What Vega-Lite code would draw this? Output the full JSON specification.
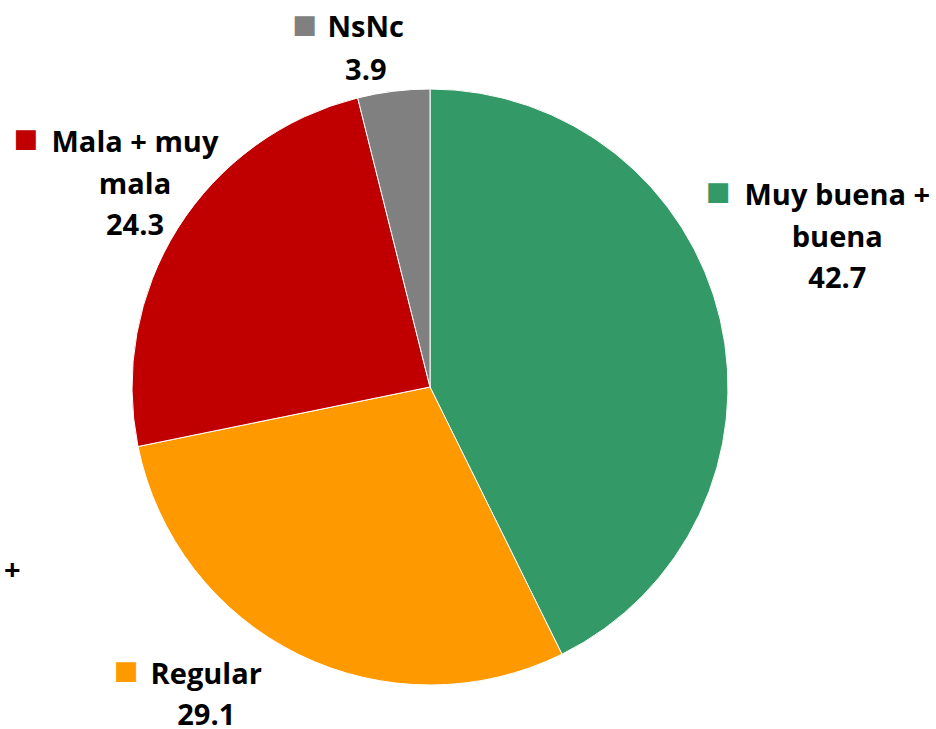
{
  "$schema": "https://vega.github.io/schema/vega-lite/v6.json",
  "width": 860,
  "height": 684,
  "autosize": "none",
  "padding": {"left": 0, "top": 45, "right": 76, "bottom": 0},
  "background": "white",
  "view": {"stroke": null},
  "data": {
    "values": [
      {"cat": "Muy buena + buena", "ord": 1, "value": 42.7, "name": "Muy buena +\nbuena"},
      {"cat": "Regular", "ord": 2, "value": 29.1, "name": "Regular"},
      {"cat": "Mala + muy mala", "ord": 3, "value": 24.3, "name": "Mala + muy\nmala"},
      {"cat": "NsNc", "ord": 4, "value": 3.9, "name": "NsNc"}
    ]
  },
  "encoding": {
    "theta": {"field": "value", "type": "quantitative", "stack": true},
    "order": {"field": "ord", "type": "quantitative"}
  },
  "layer": [
    {
      "mark": {"type": "arc", "radius": 298, "stroke": "white", "strokeWidth": 1},
      "encoding": {
        "color": {
          "field": "cat", "type": "nominal", "legend": null,
          "scale": {"domain": ["Muy buena + buena", "Regular", "Mala + muy mala", "NsNc"], "range": ["#339966", "#FF9900", "#C00000", "#808080"]}
        }
      }
    },
    {
      "mark": {"type": "text", "radius": 370, "dx": 47, "dy": -98, "align": "center", "baseline": "alphabetic", "lineBreak": "\n", "lineHeight": 42, "font": "Open Sans", "fontWeight": "bold", "fontSize": 29, "color": "black"},
      "encoding": {"text": {"condition": {"test": "datum.cat === 'Muy buena + buena'", "field": "name"}, "value": ""}}
    },
    {
      "mark": {"type": "text", "radius": 370, "dx": 47, "dy": -15, "align": "center", "baseline": "alphabetic", "font": "Open Sans", "fontWeight": "bold", "fontSize": 29, "color": "black"},
      "encoding": {"text": {"condition": {"test": "datum.cat === 'Muy buena + buena'", "field": "value", "format": ".1f"}, "value": ""}}
    },
    {
      "mark": {"type": "text", "radius": 370, "dx": -72, "dy": -111, "align": "center", "baseline": "middle", "font": "DejaVu Sans", "fontSize": 26, "color": "#339966"},
      "encoding": {"text": {"condition": {"test": "datum.cat === 'Muy buena + buena'", "value": "■"}, "value": ""}}
    },
    {
      "mark": {"type": "text", "radius": 370, "dx": -61, "dy": -35, "align": "center", "baseline": "alphabetic", "lineBreak": "\n", "lineHeight": 42, "font": "Open Sans", "fontWeight": "bold", "fontSize": 29, "color": "black"},
      "encoding": {"text": {"condition": {"test": "datum.cat === 'Regular'", "field": "name"}, "value": ""}}
    },
    {
      "mark": {"type": "text", "radius": 370, "dx": -61, "dy": 6, "align": "center", "baseline": "alphabetic", "font": "Open Sans", "fontWeight": "bold", "fontSize": 29, "color": "black"},
      "encoding": {"text": {"condition": {"test": "datum.cat === 'Regular'", "field": "value", "format": ".1f"}, "value": ""}}
    },
    {
      "mark": {"type": "text", "radius": 370, "dx": -141, "dy": -48, "align": "center", "baseline": "middle", "font": "DejaVu Sans", "fontSize": 26, "color": "#FF9900"},
      "encoding": {"text": {"condition": {"test": "datum.cat === 'Regular'", "value": "■"}, "value": ""}}
    },
    {
      "mark": {"type": "text", "radius": 370, "dx": -255, "dy": -148, "align": "center", "baseline": "middle", "font": "Open Sans", "fontWeight": "bold", "fontSize": 29, "color": "black"},
      "encoding": {"text": {"condition": {"test": "datum.cat === 'Regular'", "value": "+"}, "value": ""}}
    },
    {
      "mark": {"type": "text", "radius": 370, "dx": 18, "dy": -38, "align": "center", "baseline": "alphabetic", "lineBreak": "\n", "lineHeight": 42, "font": "Open Sans", "fontWeight": "bold", "fontSize": 29, "color": "black"},
      "encoding": {"text": {"condition": {"test": "datum.cat === 'Mala + muy mala'", "field": "name"}, "value": ""}}
    },
    {
      "mark": {"type": "text", "radius": 370, "dx": 18, "dy": 45, "align": "center", "baseline": "alphabetic", "font": "Open Sans", "fontWeight": "bold", "fontSize": 29, "color": "black"},
      "encoding": {"text": {"condition": {"test": "datum.cat === 'Mala + muy mala'", "field": "value", "format": ".1f"}, "value": ""}}
    },
    {
      "mark": {"type": "text", "radius": 370, "dx": -91, "dy": -51, "align": "center", "baseline": "middle", "font": "DejaVu Sans", "fontSize": 26, "color": "#C00000"},
      "encoding": {"text": {"condition": {"test": "datum.cat === 'Mala + muy mala'", "value": "■"}, "value": ""}}
    },
    {
      "mark": {"type": "text", "radius": 370, "dx": -19, "dy": 17, "align": "center", "baseline": "alphabetic", "lineBreak": "\n", "lineHeight": 42, "font": "Open Sans", "fontWeight": "bold", "fontSize": 29, "color": "black"},
      "encoding": {"text": {"condition": {"test": "datum.cat === 'NsNc'", "field": "name"}, "value": ""}}
    },
    {
      "mark": {"type": "text", "radius": 370, "dx": -19, "dy": 60, "align": "center", "baseline": "alphabetic", "font": "Open Sans", "fontWeight": "bold", "fontSize": 29, "color": "black"},
      "encoding": {"text": {"condition": {"test": "datum.cat === 'NsNc'", "field": "value", "format": ".1f"}, "value": ""}}
    },
    {
      "mark": {"type": "text", "radius": 370, "dx": -80, "dy": 5, "align": "center", "baseline": "middle", "font": "DejaVu Sans", "fontSize": 26, "color": "#808080"},
      "encoding": {"text": {"condition": {"test": "datum.cat === 'NsNc'", "value": "■"}, "value": ""}}
    }
  ]
}
